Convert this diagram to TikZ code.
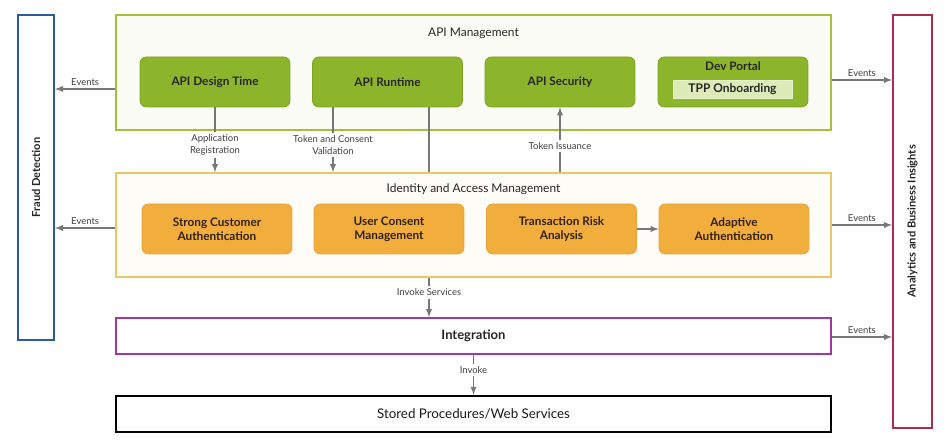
\documentclass[tikz,border=0pt]{standalone}
\usepackage{fontspec}
\setmainfont{Lato}
\usetikzlibrary{positioning}
\definecolor{apigreen}{HTML}{8DB52B}
\definecolor{apigreenline}{HTML}{7EA228}
\definecolor{apiframe}{HTML}{A9BC3E}
\definecolor{tppfill}{HTML}{DCEBB8}
\definecolor{iamorange}{HTML}{F2AE3D}
\definecolor{iamorangeline}{HTML}{E4A23A}
\definecolor{iamframe}{HTML}{EAC766}
\definecolor{fraudblue}{HTML}{2C5A9C}
\definecolor{anared}{HTML}{A8304A}
\definecolor{integpurple}{HTML}{9A3A9E}
\definecolor{flowgray}{HTML}{777777}
\begin{document}
\begin{tikzpicture}[x=0.02cm, y=-0.02cm,
    frame/.style={draw, line width=0.9pt, minimum width=14.3cm},
    apibox/.style={draw=apigreenline, fill=apigreen, rounded corners=3.5pt, minimum width=3cm, minimum height=1cm, font=\fontsize{6.7}{8}\selectfont\bfseries, text=black!85},
    iambox/.style={draw=iamorangeline, fill=iamorange, rounded corners=3.5pt, minimum width=3cm, minimum height=1cm, align=center, font=\fontsize{6.7}{8}\selectfont\bfseries, text=black!75!brown},
    sidebox/.style={draw, line width=1.1pt, minimum width=0.72cm},
    sidetxt/.style={rotate=90, font=\fontsize{6.3}{7.5}\selectfont\bfseries, text=black!85},
    title/.style={font=\fontsize{6.8}{8}\selectfont, text=black!85},
    evt/.style={font=\fontsize{5.4}{6.4}\selectfont, text=black!75, inner sep=1.5pt},
    flow/.style={draw=flowgray, line width=0.6pt, -latex}]
\useasboundingbox (0,0) rectangle (948,448);

% side lanes
\node[sidebox, draw=fraudblue, minimum height=6.5cm] (fraud) at (36,177.5) {};
\node[sidetxt] (fraudtxt) at (fraud.center) {Fraud Detection};
\node[sidebox, draw=anared, minimum width=0.78cm, minimum height=8.26cm] (ana) at (912.5,221.5) {};
\node[sidetxt] (anatxt) at (ana.center) {Analytics and Business Insights};

% API Management
\node[frame, draw=apiframe, fill=apiframe!4, minimum height=2.3cm] (apim) at (473.5,72.5) {};
\node[title] (apimtxt) at (473.5,33) {API Management};
\node[apibox] (dt) at (215,82) {API Design Time};
\node[apibox] (rt) at (387.5,82) {API Runtime};
\node[apibox] (sec) at (560,82) {API Security};
\node[apibox] (dev) at (733,82) {};
\node[font=\fontsize{6.7}{8}\selectfont\bfseries, text=black!85] (devtxt) at (733,66) {Dev Portal};
\node[draw=tppfill!70!white, fill=tppfill, minimum width=2.38cm, minimum height=0.36cm, inner sep=0pt, font=\fontsize{6.8}{8}\selectfont\bfseries, text=black!85] (tpp) at (732.5,89) {TPP Onboarding};

% Identity and Access Management
\node[frame, draw=iamframe, fill=iamframe!5, minimum height=2.08cm] (iam) at (473.5,225) {};
\node[title] (iamtxt) at (473.5,189) {Identity and Access Management};
\node[iambox] (sca) at (217,229) {Strong Customer\\Authentication};
\node[iambox] (ucm) at (389,229) {User Consent\\Management};
\node[iambox] (tra) at (561.5,229) {Transaction Risk\\Analysis};
\node[iambox] (aa) at (734,229) {Adaptive\\Authentication};

% Integration and backend
\node[frame, draw=integpurple, minimum height=0.72cm, font=\fontsize{7.4}{8.5}\selectfont\bfseries, text=black!85] (integ) at (473.5,336) {Integration};
\node[frame, draw=black, line width=1.3pt, minimum height=0.72cm, font=\fontsize{7.6}{8.5}\selectfont, text=black!90] (stored) at (473.5,414) {Stored Procedures/Web Services};

% events
\draw[flow] (apim.west |- 0,89) -- node[evt, above] {Events} (fraud.east |- 0,89);
\draw[flow] (iam.west |- 0,228) -- node[evt, above] {Events} (fraud.east |- 0,228);
\draw[flow] (apim.east |- 0,80) -- node[evt, above] {Events} (ana.west |- 0,80);
\draw[flow] (iam.east |- 0,225) -- node[evt, above] {Events} (ana.west |- 0,225);
\draw[flow] (integ.east |- 0,337) -- node[evt, above] {Events} (ana.west |- 0,337);

% calls between layers
\draw[flow] (dt.south) -- node[evt, pos=0.58, fill=white, align=center] {Application\\Registration} (dt.south |- iam.north);
\draw[flow] (rt.south -| 333,0) -- node[evt, pos=0.58, fill=white, align=center] {Token and Consent\\Validation} (iam.north -| 333,0);
\draw[draw=flowgray, line width=0.6pt] (rt.south -| 429,0) -- (iam.north -| 429,0);
\draw[flow] (iam.north -| sec.south) -- node[evt, pos=0.4, fill=white] {Token Issuance} (sec.south);
\draw[flow] (tra.east) -- (aa.west);
\draw[flow] (iam.south -| 429,0) -- node[evt, pos=0.37, fill=white] {Invoke Services} (integ.north -| 429,0);
\draw[flow] (integ.south) -- node[evt, pos=0.38, fill=white] {Invoke} (stored.north);
\end{tikzpicture}
\end{document}
